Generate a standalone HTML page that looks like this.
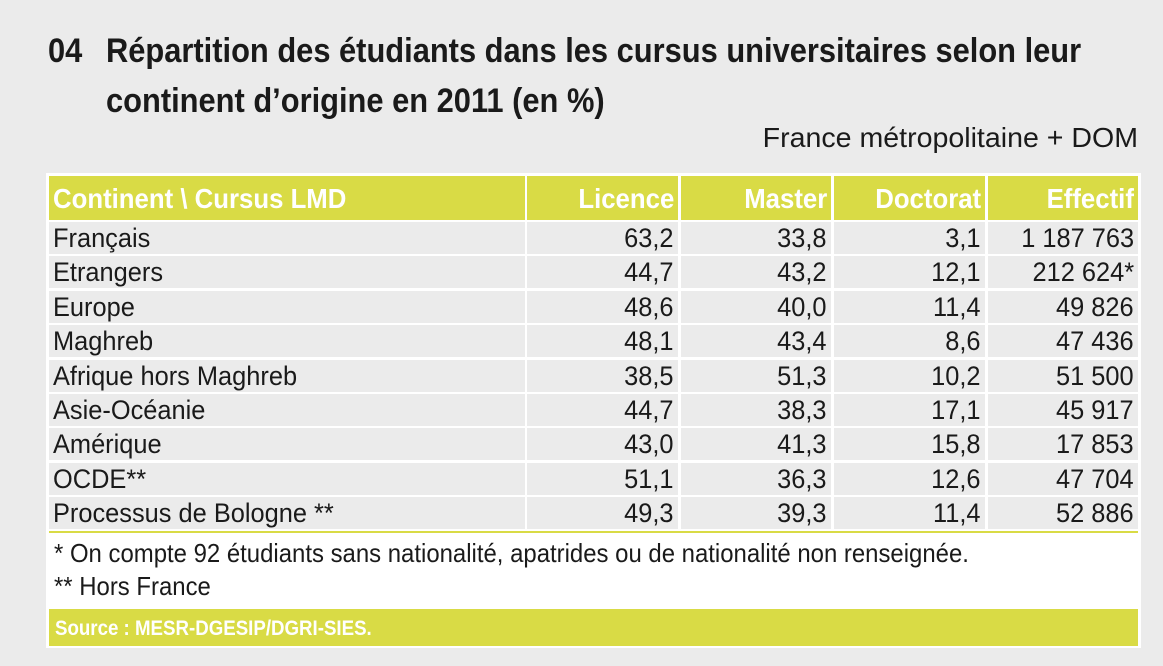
<!DOCTYPE html>
<html><head><meta charset="utf-8"><style>
body{margin:0;width:1163px;height:666px;background:#ebebeb;font-family:"Liberation Sans Narrow","Liberation Sans",sans-serif;color:#1a1a1a;position:relative;overflow:hidden}
.t{position:absolute;font-weight:bold;font-size:34px;line-height:50px;white-space:nowrap;transform:scaleX(.907);transform-origin:left top}
.panel{position:absolute;left:46px;top:173px;width:1095px;height:475px;background:#fff}
.row{position:absolute;left:3px;height:32px;font-size:27px;line-height:33px}
.c{position:absolute;top:0;height:100%;background:#ebebeb;box-sizing:border-box;padding:0 4px;white-space:nowrap}
.c span{display:inline-block;transform:scaleX(.94);transform-origin:left center}
.r span{transform-origin:right center}
.h .c{background:#d9db45;color:#fff;font-weight:bold}
.h .c span{transform:scaleX(.92)}
.r{text-align:right}
</style></head><body>
<div class="t" style="left:48px;top:26px">04</div>
<div class="t" style="left:106px;top:26px">Répartition des étudiants dans les cursus universitaires selon leur<br>continent d’origine en 2011 (en %)</div>
<div style="position:absolute;right:25px;top:122px;font-size:28px;transform:scaleX(1.02);transform-origin:right top">France métropolitaine + DOM</div>
<div class="panel">
<div class="row h" style="top:3px;height:44px;line-height:46px;font-size:28px">
<div class="c" style="left:0;width:476px"><span>Continent \ Cursus LMD</span></div>
<div class="c r" style="left:478px;width:151px"><span>Licence</span></div>
<div class="c r" style="left:632px;width:150px"><span>Master</span></div>
<div class="c r" style="left:785px;width:151px"><span>Doctorat</span></div>
<div class="c r" style="left:939px;width:150px"><span>Effectif</span></div>
</div>
<div id="rows"></div>
<div style="position:absolute;left:3px;top:358px;width:1089px;height:2px;background:#d9db45"></div>
<div style="position:absolute;left:8px;top:364px;font-size:26px;line-height:33px;white-space:nowrap;transform:scaleX(.92);transform-origin:left top">* On compte 92 étudiants sans nationalité, apatrides ou de nationalité non renseignée.<br>** Hors France</div>
<div style="position:absolute;left:3px;top:436px;width:1089px;height:37px;background:#d9db45"></div>
<div style="position:absolute;left:9px;top:436px;color:#fff;font-weight:bold;font-size:21px;line-height:40px;white-space:nowrap;transform:scaleX(.89);transform-origin:left top">Source : MESR-DGESIP/DGRI-SIES.</div>
</div>
<script>
var d=[["Français","63,2","33,8","3,1","1 187 763"],["Etrangers","44,7","43,2","12,1","212 624*"],["Europe","48,6","40,0","11,4","49 826"],["Maghreb","48,1","43,4","8,6","47 436"],["Afrique hors Maghreb","38,5","51,3","10,2","51 500"],["Asie-Océanie","44,7","38,3","17,1","45 917"],["Amérique","43,0","41,3","15,8","17 853"],["OCDE**","51,1","36,3","12,6","47 704"],["Processus de Bologne **","49,3","39,3","11,4","52 886"]];
var L=[[0,476],[478,151],[632,150],[785,151],[939,150]],h="";
d.forEach(function(r,i){h+='<div class="row" style="top:'+(49+i*34.4)+'px">';r.forEach(function(v,j){h+='<div class="c'+(j?' r':'')+'" style="left:'+L[j][0]+'px;width:'+L[j][1]+'px"><span>'+v+'</span></div>'});h+='</div>'});
document.getElementById("rows").innerHTML=h;
</script>
</body></html>
